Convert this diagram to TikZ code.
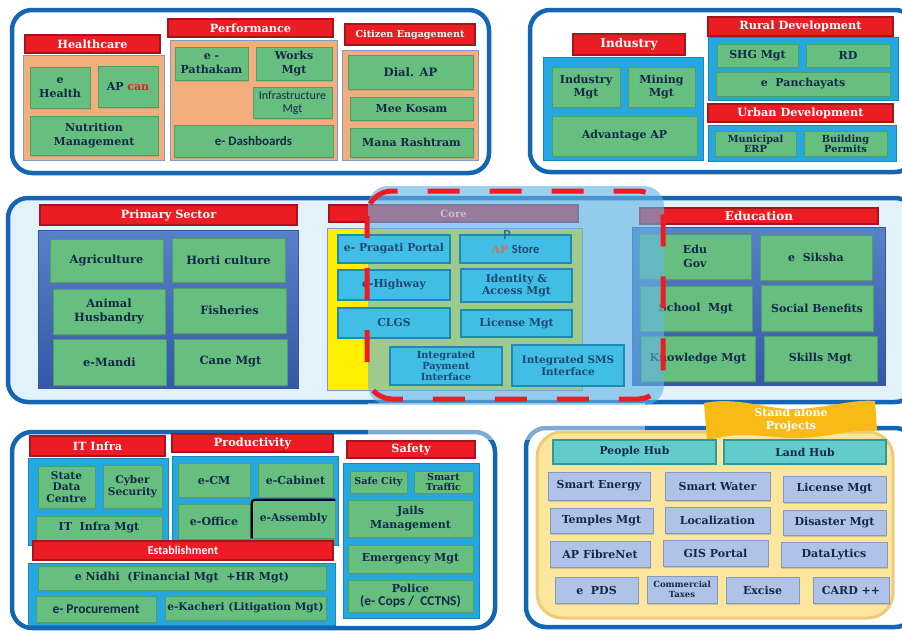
\documentclass[tikz,border=0pt]{standalone}
\usepackage{fontspec}
\setmainfont{DejaVu Serif}
\newfontfamily\calib{Carlito}
\usetikzlibrary{shadows}
\definecolor{obord}{HTML}{1565B5}
\definecolor{tred}{HTML}{EC1C24}
\definecolor{tredd}{HTML}{A8141C}
\definecolor{gfill}{HTML}{66BF7E}
\definecolor{gdraw}{HTML}{4E9E66}
\definecolor{navy}{HTML}{14284A}
\definecolor{orng}{HTML}{F2AE7C}
\definecolor{contb}{HTML}{7C9CC8}
\definecolor{lblue}{HTML}{24A8E2}
\definecolor{lblued}{HTML}{1A86C0}
\definecolor{dbluet}{HTML}{5A80C8}
\definecolor{dblueb}{HTML}{3358A8}
\definecolor{midbg}{HTML}{E2F1FA}
\definecolor{cyanb}{HTML}{40BEE6}
\definecolor{cyand}{HTML}{1E8AB0}
\definecolor{ctext}{HTML}{1F4870}
\definecolor{lav}{HTML}{AFC3E8}
\definecolor{lavd}{HTML}{8498C0}
\definecolor{ylw}{HTML}{FCE59C}
\definecolor{ylwd}{HTML}{EFCB78}
\definecolor{gold}{HTML}{F8BA16}
\definecolor{tealb}{HTML}{62CBCB}
\definecolor{teald}{HTML}{2E9A9C}
\definecolor{ovl}{HTML}{64B4E6}
\definecolor{yel}{HTML}{FFEF00}
\definecolor{apbrown}{HTML}{C8785A}
\definecolor{pblue}{HTML}{2B6E9E}
\definecolor{coretxt}{HTML}{C8C2CA}
\newcommand\bx[7]{\node[#1, minimum width={(#5)-(#3)}, minimum height={(#6)-(#4)}] (#2) at ({((#3)+(#5))/2},{((#4)+(#6))/2}) {#7};}
\tikzset{
  outer/.style={draw=obord, line width=4.5pt, rounded corners=20pt},
  title/.style={fill=tred, draw=tredd, line width=1.3pt, text=white, font=\bfseries\fontsize{11.3}{12}\selectfont},
  ocont/.style={fill=orng, draw=contb, line width=0.7pt},
  bcont/.style={fill=lblue, draw=lblued, line width=0.7pt},
  dcont/.style={top color=dbluet, bottom color=dblueb, draw=dblueb, line width=0.7pt},
  gbox/.style={fill=gfill, draw=gdraw, line width=0.5pt, text=navy, font=\bfseries\fontsize{11}{13.5}\selectfont, drop shadow={shadow xshift=1pt, shadow yshift=-1.5pt, opacity=0.3}},
  fs/.style 2 args={font=\bfseries\fontsize{#1}{#2}\selectfont},
  sans/.style 2 args={font=\calib\fontsize{#1}{#2}\selectfont},
  sansb/.style 2 args={font=\calib\bfseries\fontsize{#1}{#2}\selectfont},
  cbox/.style={fill=cyanb, draw=cyand, line width=1.2pt, text=ctext, font=\bfseries\fontsize{10.8}{12}\selectfont},
  lbox/.style={fill=lav, draw=lavd, line width=0.5pt, text=navy, font=\bfseries\fontsize{11}{13}\selectfont, drop shadow={shadow xshift=1.2pt, shadow yshift=-1.8pt, opacity=0.35}},
  hub/.style={fill=tealb, draw=teald, line width=1.2pt, text=navy, font=\bfseries\fontsize{10.8}{13}\selectfont},
}
\begin{document}
\begin{tikzpicture}[x=1pt, y=-1pt, every node/.style={inner sep=1pt, align=center}]
\useasboundingbox (0,0) rectangle (902,630);
\clip (0,0) rectangle (902,630);
\fill[white] (0,0) rectangle (902,630);

% ================= TOP LEFT =================
\draw[outer] (12,10) rectangle (489,173);
\bx{ocont}{chealth}{23}{55}{164}{160}{}
\bx{title}{thealth}{25}{35}{160}{53}{Healthcare}
\bx{gbox}{ehealth}{30}{67}{90}{108}{e\\Health}
\bx{gbox}{apcan}{98}{66}{158}{107}{AP \textcolor{tred}{can}}
\bx{gbox}{nutri}{30}{116}{158}{155}{Nutrition\\Management}

\bx{ocont}{cperf}{170}{40}{337}{160}{}
\bx{title}{tperf}{168}{19}{333}{37}{Performance}
\bx{gbox}{pathakam}{175}{47}{248}{80}{e -\\Pathakam}
\bx{gbox}{works}{256}{47}{332}{80}{Works\\Mgt}
\bx{gbox, sans={12}{13}}{infra}{253}{87}{332}{118}{Infrastructure\\Mgt}
\bx{gbox, sansb={13}{14}}{dash}{174}{125}{333}{157}{e- Dashboards}

\bx{ocont}{ccit}{342}{50}{478}{160}{}
\bx{title, fs={9.6}{11}}{tcit}{345}{24}{475}{45}{Citizen Engagement}
\bx{gbox, fs={11.6}{13}}{dial}{348}{55}{473}{89}{Dial. AP}
\bx{gbox}{kosam}{350}{97}{473}{120}{Mee Kosam}
\bx{gbox}{mana}{350}{128}{473}{157}{Mana Rashtram}

% ================= TOP RIGHT =================
\draw[outer] (530,10) rectangle (915,172);
\bx{bcont}{cind}{543}{57}{703}{160}{}
\bx{title, fs={12}{13}}{tind}{573}{34}{685}{55}{Industry}
\bx{gbox}{indmgt}{552}{67}{620}{107}{Industry\\Mgt}
\bx{gbox}{mining}{628}{67}{695}{107}{Mining\\Mgt}
\bx{gbox}{advap}{552}{116}{697}{156}{Advantage AP}

\bx{bcont}{crural}{708}{37}{898}{100}{}
\bx{title}{trural}{708}{17}{893}{36}{Rural Development}
\bx{gbox}{shg}{717}{44}{798}{67}{SHG Mgt}
\bx{gbox}{rd}{806}{44}{890}{67}{RD}
\bx{gbox}{panch}{716}{72}{890}{96}{e~ Panchayats}

\bx{bcont}{curban}{708}{125}{896}{161}{}
\bx{title}{turban}{708}{104}{893}{122}{Urban Development}
\bx{gbox, fs={9.8}{10}}{muni}{715}{131}{796}{156}{Municipal\\ERP}
\bx{gbox, fs={9.8}{10}}{build}{804}{131}{887}{156}{Building\\Permits}

% ================= MIDDLE =================
\draw[outer, fill=midbg] (8,198) rectangle (915,402);
\bx{dcont}{cprim}{38}{230}{298}{388}{}
\bx{title}{tprim}{40}{205}{297}{225}{Primary Sector}
\bx{gbox, fs={11.4}{13.5}}{agri}{50}{239}{163}{282}{Agriculture}
\bx{gbox, fs={11.4}{13.5}}{horti}{172}{238}{285}{282}{Horti culture}
\bx{gbox, fs={11.4}{13.5}}{animal}{53}{289}{165}{334}{Animal\\Husbandry}
\bx{gbox, fs={11.4}{13.5}}{fish}{173}{288}{286}{333}{Fisheries}
\bx{gbox, fs={11.4}{13.5}}{mandi}{53}{339}{166}{385}{e-Mandi}
\bx{gbox, fs={11.4}{13.5}}{cane}{174}{339}{287}{385}{Cane Mgt}

\bx{dcont}{cedu}{632}{227}{885}{385}{}
\bx{title, fs={12}{13}}{tedu}{640}{208}{878}{224}{Education}
\bx{gbox}{edugov}{639}{234}{751}{279}{Edu\\Gov}
\bx{gbox}{siksha}{760}{235}{872}{280}{e~ Siksha}
\bx{gbox}{school}{640}{286}{752}{331}{School~ Mgt}
\bx{gbox}{social}{761}{285}{873}{331}{Social Benefits}
\bx{gbox}{knowl}{641}{336}{755}{381}{Knowledge Mgt}
\bx{gbox}{skills}{764}{336}{877}{381}{Skills Mgt}

% core
\bx{title}{tcore}{329}{205}{578}{222}{}
\bx{fill=yel, draw=contb, line width=0.7pt}{ccore}{327}{228}{582}{390}{}
\fill[ovl, opacity=0.62, rounded corners=20pt] (368,186) rectangle (664,405);
\node[text=coretxt, font=\bfseries\fontsize{10}{11}\selectfont] (core) at (tcore) {Core};
\bx{cbox}{apstore}{460}{235}{571}{263}{\raisebox{-4.5pt}{\textcolor{apbrown}{AP} {\calib\bfseries\fontsize{12.5}{12}\selectfont Store}}}
\node[text=pblue, font=\calib\bfseries\fontsize{14}{14}\selectfont, anchor=south, inner sep=0pt] (pl) at (507,240) {P};
\bx{cbox}{pragati}{338}{235}{450}{263}{e- Pragati Portal}
\bx{cbox}{highway}{338}{270}{450}{300}{e-Highway}
\bx{cbox}{identity}{461}{269}{572}{302}{Identity \&\\Access Mgt}
\bx{cbox}{clgs}{338}{308}{450}{338}{CLGS}
\bx{cbox}{license}{461}{310}{572}{337}{License Mgt}
\bx{cbox, fs={9.8}{11}}{ipi}{390}{347}{502}{385}{Integrated\\Payment\\Interface}
\bx{cbox, fs={10.4}{12.5}}{isms}{512}{345}{624}{386}{Integrated SMS\\Interface}
\draw[tred, line width=5pt, rounded corners=25pt, dash pattern=on 32pt off 30pt, dash phase=10pt] (367,191) rectangle (663,399);

% ================= BOTTOM LEFT =================
\draw[outer] (12,432) rectangle (495,628);
\bx{bcont}{cit}{28}{458}{168}{545}{}
\bx{title}{tit}{30}{436}{165}{456}{IT Infra}
\bx{gbox, fs={10.6}{11.5}}{sdc}{38}{466}{95}{508}{State\\Data\\Centre}
\bx{gbox, fs={10.6}{12.5}}{cyber}{103}{465}{162}{508}{Cyber\\Security}
\bx{gbox}{itmgt}{36}{516}{162}{540}{IT~ Infra Mgt}

\bx{bcont}{cprod}{172}{456}{338}{545}{}
\bx{title}{tprod}{172}{434}{333}{452}{Productivity}
\bx{gbox}{ecm}{178}{463}{250}{497}{e-CM}
\bx{gbox}{ecab}{258}{463}{333}{497}{e-Cabinet}
\bx{gbox}{eoff}{178}{504}{250}{539}{e-Office}
\bx{gbox, fs={10.7}{13}}{eass}{252}{500}{335}{538}{e-Assembly}
\draw[black, line width=2.2pt, rounded corners=3pt] (eass.south west) -- (eass.north west) -- (eass.north east);

\bx{bcont}{cest}{28}{563}{335}{625}{}
\bx{title, sansb={12}{13}}{test}{33}{541}{333}{560}{Establishment}
\bx{gbox}{nidhi}{38}{566}{326}{590}{e Nidhi~ (Financial Mgt~ +HR Mgt)}
\bx{gbox, sansb={13.5}{14}}{proc}{36}{596}{156}{622}{e- Procurement}
\bx{gbox, fs={10.5}{12}}{kach}{165}{596}{326}{620}{e-Kacheri (Litigation Mgt)}

\bx{bcont}{csafe}{343}{463}{479}{618}{}
\bx{title}{tsafe}{347}{441}{475}{458}{Safety}
\bx{gbox, fs={9.6}{11}}{safecity}{350}{471}{407}{493}{Safe City}
\bx{gbox, fs={9.6}{10.5}}{traffic}{414}{471}{473}{493}{Smart\\Traffic}
\bx{gbox}{jails}{348}{500}{473}{537}{Jails\\Management}
\bx{gbox}{emerg}{348}{545}{473}{573}{Emergency Mgt}
\bx{gbox}{police}{348}{580}{473}{612}{Police\\{\calib\bfseries\fontsize{13.5}{13}\selectfont (e- Cops /~ CCTNS)}}

% ================= BOTTOM RIGHT =================
\draw[outer] (526,428) rectangle (915,627);
\fill[white, opacity=0.45] (368,403) rectangle (645,440);
\bx{fill=ylw, draw=ylwd, line width=3pt, rounded corners=25pt}{cstand}{537}{432}{893}{618}{}
\fill[gold] (704,403) .. controls (740,396) and (770,411) .. (800,409) .. controls (830,407) and (855,399) .. (875,401) -- (877,431) .. controls (850,429) and (830,437) .. (800,438) .. controls (770,439) and (740,429) .. (707,441) -- cycle;
\node[text=white, font=\bfseries\fontsize{11}{13}\selectfont] (sap) at (791,420) {Stand alone\\Projects};
\bx{hub}{people}{553}{440}{716}{464}{People Hub}
\bx{hub}{land}{724}{440}{886}{464}{Land Hub}
\bx{lbox}{senergy}{548}{472}{650}{500}{Smart Energy}
\bx{lbox}{swater}{665}{472}{770}{500}{Smart Water}
\bx{lbox}{licmgt}{783}{476}{886}{502}{License Mgt}
\bx{lbox}{temples}{550}{508}{653}{533}{Temples Mgt}
\bx{lbox}{local}{665}{507}{770}{533}{Localization}
\bx{lbox}{disaster}{783}{510}{886}{535}{Disaster Mgt}
\bx{lbox}{fibre}{550}{541}{650}{567}{AP FibreNet}
\bx{lbox}{gis}{663}{540}{768}{566}{GIS Portal}
\bx{lbox}{datal}{781}{542}{887}{567}{DataLytics}
\bx{lbox}{epds}{555}{577}{638}{603}{e~ PDS}
\bx{lbox, fs={8.5}{9.5}}{comm}{647}{576}{717}{603}{Commercial\\Taxes}
\bx{lbox}{excise}{726}{577}{799}{603}{Excise}
\bx{lbox}{card}{813}{577}{889}{603}{CARD ++}
\end{tikzpicture}
\end{document}
